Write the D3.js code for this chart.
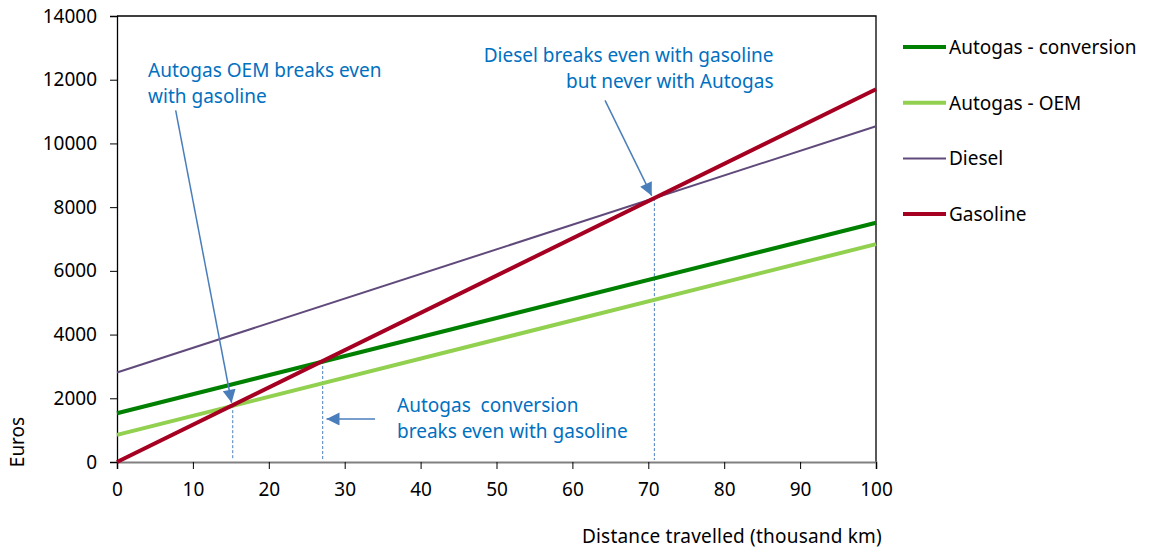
<!DOCTYPE html>
<html><head><meta charset="utf-8">
<script src="https://cdn.jsdelivr.net/npm/d3@7"></script>
<style>
body{margin:0;background:#fff;}
text{font-family:"Noto Sans",sans-serif;}
</style></head>
<body><svg id="c" width="1151" height="554"></svg>
<script>
// ---- data ----
const distance = [0, 100];                 // thousand km
const seriesNames = ["Autogas - conversion", "Autogas - OEM", "Diesel", "Gasoline"];
const conversionCost = [1530, 7510];
const oemCost = [850, 6840];
const dieselCost = [2810, 10540];
const gasolineCost = [0, 11700];
const xTicks = [0,10,20,30,40,50,60,70,80,90,100];
const yTicks = [0,2000,4000,6000,8000,10000,12000,14000];
const breakEvenX = [15.25, 27.1, 70.8];
const annotationLines = [
  ["Autogas OEM breaks even", "with gasoline"],
  ["Diesel breaks even with gasoline", "but never with Autogas"],
  ["Autogas  conversion", "breaks even with gasoline"]
];
const annotationAnchor = [[4.1, 12070], [86.5, 12550], [36.9, 1580]]; // data units
const arrowTail = [[7.73, 11040], [64.3, 11350], [34.0, 1350]];
const arrowHead = [[15.1, 1860], [70.45, 8360], [27.6, 1350]];

// ---- style ----
const colors = ["#008000", "#92d050", "#604a7b", "#a50021"];
const widths = [4, 4, 2, 4];
const values = [conversionCost, oemCost, dieselCost, gasolineCost];
const FS = 19;

const svg = d3.select("#c");
const m = {l:117, r:275, t:16, b:92};
const W = 1151, H = 554;
const x = d3.scaleLinear().domain([0,100]).range([m.l, W - m.r]);
const y = d3.scaleLinear().domain([0,14000]).range([H - m.b, m.t]);

const defs = svg.append("defs");
defs.append("marker").attr("id","ah").attr("viewBox","0 0 10 10")
  .attr("refX",10).attr("refY",5).attr("markerWidth",15).attr("markerHeight",13)
  .attr("markerUnits","userSpaceOnUse").attr("orient","auto")
  .append("path").attr("d","M0,0L10,5L0,10Z").attr("fill","#4a7ebb");

// frame (top & right)
svg.append("path")
  .attr("d", `M${x(0)},${y(14000)}H${x(100)}V${y(0)}`)
  .attr("fill","none").attr("stroke","#000").attr("stroke-width",1.3);

// axes
const gx = svg.append("g").attr("transform",`translate(0,${y(0)})`)
  .call(d3.axisBottom(x).tickValues(xTicks).tickSize(7).tickPadding(14).tickFormat(d3.format("d")));
gx.select(".domain").attr("stroke","#808080").attr("stroke-width",2);
gx.selectAll(".tick line").attr("stroke","#000");
gx.selectAll("text").attr("font-size",FS).attr("fill","#000").attr("font-family","Noto Sans");

const gy = svg.append("g").attr("transform",`translate(${x(0)},0)`)
  .call(d3.axisLeft(y).tickValues(yTicks).tickSize(7).tickPadding(13).tickFormat(d3.format("d")));
gy.select(".domain").attr("stroke","#000").attr("stroke-width",1.3);
gy.selectAll("text").attr("font-size",FS).attr("fill","#000").attr("font-family","Noto Sans");

// dashed break-even lines
const gasAt = v => gasolineCost[0] + (gasolineCost[1]-gasolineCost[0]) * v / 100;
svg.append("g").selectAll("line").data(breakEvenX).join("line")
  .attr("x1", d=>x(d)).attr("x2", d=>x(d))
  .attr("y1", d=>y(gasAt(d))).attr("y2", y(0)-2)
  .attr("stroke","#4a7ebb").attr("stroke-width",1).attr("stroke-dasharray","3,2");

// series lines
const line = d3.line().x((d,i)=>x(distance[i])).y(d=>y(d));
svg.append("g").selectAll("path").data(values).join("path")
  .attr("d", d=>line(d)).attr("fill","none")
  .attr("stroke",(d,i)=>colors[i]).attr("stroke-width",(d,i)=>widths[i]);

// arrows
svg.append("g").selectAll("line").data(arrowTail).join("line")
  .attr("x1", d=>x(d[0])).attr("y1", d=>y(d[1]))
  .attr("x2", (d,i)=>x(arrowHead[i][0])).attr("y2", (d,i)=>y(arrowHead[i][1]))
  .attr("stroke","#4a7ebb").attr("stroke-width",1.5).attr("marker-end","url(#ah)");

// annotation texts
const anchors = ["start","end","start"];
annotationLines.forEach((lines,i)=>{
  const t = svg.append("text").attr("x", x(annotationAnchor[i][0])).attr("y", y(annotationAnchor[i][1]))
    .attr("text-anchor", anchors[i]).attr("font-size",FS).attr("fill","#0070c0")
    .attr("xml:space","preserve").style("white-space","pre");
  lines.forEach((s,j)=>t.append("tspan").attr("x", x(annotationAnchor[i][0])).attr("dy", j?26:0).text(s));
});

// legend
const lg = svg.append("g").attr("transform",`translate(903,47)`);
seriesNames.forEach((n,i)=>{
  const g = lg.append("g").attr("transform",`translate(0,${i*55.7})`);
  g.append("line").attr("x1",0).attr("x2",43).attr("y1",0).attr("y2",0)
    .attr("stroke",colors[i]).attr("stroke-width",widths[i]);
  g.append("text").attr("x",46).attr("y",7).attr("font-size",FS).attr("fill","#000").text(n);
});

// axis titles
svg.append("text").attr("x", x(100)+6).attr("y", 543).attr("text-anchor","end")
  .attr("font-size",FS).attr("fill","#000").attr("letter-spacing",0.2).text("Distance travelled (thousand km)");
svg.append("text").attr("transform","translate(24,442) rotate(-90)").attr("text-anchor","middle")
  .attr("font-size",FS).attr("fill","#000").text("Euros");
</script></body></html>
